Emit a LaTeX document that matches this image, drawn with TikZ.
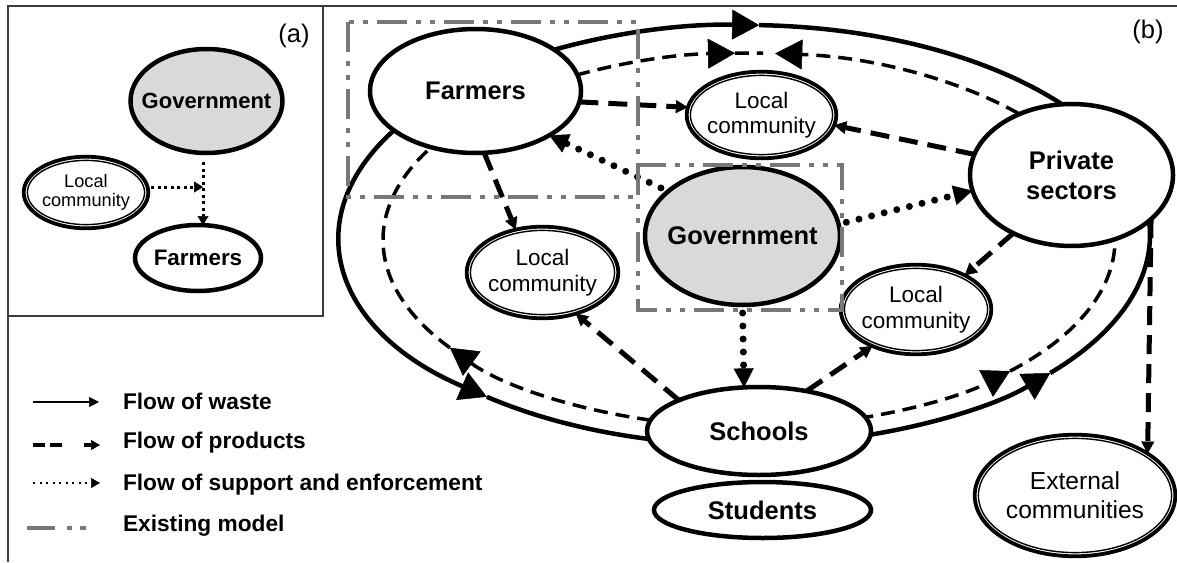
\documentclass[tikz,border=0pt]{standalone}
\usepackage{fontspec}
\setmainfont{Liberation Sans}
\usetikzlibrary{shapes.geometric,arrows.meta}
\definecolor{govgray}{RGB}{217,217,217}
\definecolor{framegray}{RGB}{60,60,60}
\definecolor{modelgray}{RGB}{120,120,120}
\begin{document}
\begin{tikzpicture}[x=1pt, y=-1pt,
  every node/.style={inner sep=0pt, outer sep=0pt},
  frame/.style={draw=framegray, line width=1.5pt},
  % actors
  actor/.style 2 args={ellipse, draw, line width=4.5pt, fill=white,
    inner xsep=-15pt, minimum width=#1, minimum height=#2},
  govt/.style 2 args={actor={#1}{#2}, fill=govgray},
  ring/.style 2 args={ellipse, draw, line width=3.8pt, fill=white,
    inner xsep=-15pt, minimum width=#1, minimum height=#2,
    append after command={node[ellipse, draw, line width=1.4pt, inner xsep=-15pt,
      minimum width=#1-7.4pt, minimum height=#2-7.4pt] at (\tikzlastnode.center) {}}},
  namefont/.style={font=\fontsize{25.5}{30}\selectfont\bfseries, align=center},
  commfont/.style={font=\fontsize{22.5}{25.6}\selectfont, align=center},
  extfont/.style={font=\fontsize{24.6}{29}\selectfont, align=center},
  labelfont/.style={font=\fontsize{25.5}{28}\selectfont},
  legendfont/.style={font=\fontsize{22.7}{26}\selectfont\bfseries, anchor=base west},
  % flows
  wasteline/.style={line width=4.5pt},
  wasteloop/.style={x radius=405, y radius=210},
  prodline/.style={line width=3.5pt, dash pattern=on 14pt off 8pt},
  prodloop/.style={x radius=366, y radius=187},
  bigtip/.style={-{Triangle[width=30pt,length=27pt,line width=0.5pt]}},
  product/.style={line width=5pt, dash pattern=on 19pt off 10pt,
    -{Triangle[width=13pt,length=12pt,line width=0.5pt]}},
  support/.style={line width=7pt, line cap=round, dash pattern=on 0pt off 13pt,
    shorten <=8pt, -{Triangle[width=20pt,length=19pt,line width=0.5pt]}},
  supporta/.style={line width=3pt, dash pattern=on 3pt off 3.5pt,
    -{Triangle[width=11pt,length=9pt,line width=0.5pt]}},
  model/.style={draw=modelgray, line width=3.5pt,
    dash pattern=on 30pt off 9pt on 5pt off 9pt on 5pt off 9pt},
]
\useasboundingbox (0,0) rectangle (1177,562);

% frame of the two panels
\draw[frame] (1177,6) -- (8,6) -- (8,562);
\draw[frame] (323,6) -- (323,316) -- (8,316);

% ---------- panel (a) ----------
\node[labelfont] (labA) at (294,36) {(a)};
\node[govt={152pt}{104pt}, font=\fontsize{22}{26}\selectfont\bfseries] (aGov) at (206.5,101) {Government};
\node[ring={124.6pt}{71.6pt}, font=\fontsize{18.2}{18.5}\selectfont, align=center] (aLoc) at (86,192.5) {Local\\community};
\node[actor={126pt}{66pt}, font=\fontsize{22.4}{26}\selectfont\bfseries] (aFar) at (198,258) {Farmers};
\coordinate (aJoin) at (203,187);
\draw[supporta, shorten <=9pt] (aJoin |- aGov.south) -- (aJoin |- aFar.north);
\draw[supporta, shorten <=3pt] (aLoc.east |- aJoin) -- (aJoin);

% ---------- panel (b) ----------
\node[labelfont] (labB) at (1148,32) {(b)};

% waste loop
\coordinate (wasteC) at (745,235);
\draw[wasteline, bigtip] (wasteC) ++(-125:405 and 210) arc[wasteloop, start angle=-125, end angle=-88];
\draw[wasteline] (wasteC) ++(-88:405 and 210) arc[wasteloop, start angle=-88, end angle=-35];
\draw[wasteline, bigtip] (wasteC) ++(215:405 and 210) arc[wasteloop, start angle=215, end angle=129.6];
\draw[wasteline] (wasteC) ++(129.6:405 and 210) arc[wasteloop, start angle=129.6, end angle=100];
\draw[wasteline, bigtip] (wasteC) ++(76:405 and 210) arc[wasteloop, start angle=76, end angle=41.1];
\draw[wasteline] (wasteC) ++(41.1:405 and 210) arc[wasteloop, start angle=41.1, end angle=-5];

% product loop
\coordinate (prodC) at (749,240);
\draw[prodline, bigtip] (prodC) ++(-122:366 and 187) arc[prodloop, start angle=-122, end angle=-92.2];
\draw[prodline] (prodC) ++(-92.2:366 and 187) arc[prodloop, start angle=-92.2, end angle=-87.8];
\draw[prodline, bigtip] (prodC) ++(-38:366 and 187) arc[prodloop, start angle=-38, end angle=-85.9];
\draw[prodline, bigtip] (prodC) ++(102:366 and 187) arc[prodloop, start angle=102, end angle=144.8];
\draw[prodline] (prodC) ++(144.8:366 and 187) arc[prodloop, start angle=144.8, end angle=213];
\draw[prodline, bigtip] (prodC) ++(76:366 and 187) arc[prodloop, start angle=76, end angle=44.5];
\draw[prodline] (prodC) ++(44.5:366 and 187) arc[prodloop, start angle=44.5, end angle=-3];

% actors
\node[actor={211pt}{124pt}, namefont] (bFar) at (475.5,91) {Farmers};
\node[ring={149.6pt}{86.6pt}, commfont] (bLocT) at (761.5,115) {Local\\community};
\node[actor={203pt}{142pt}, namefont] (bPriv) at (1071.5,175) {Private\\sectors};
\node[govt={195pt}{138pt}, namefont] (bGov) at (742.5,236) {Government};
\node[ring={151.6pt}{91.6pt}, commfont] (bLocL) at (542.5,272.5) {Local\\community};
\node[ring={150.6pt}{89.6pt}, commfont] (bLocR) at (916,309.5) {Local\\community};
\node[actor={217pt}{56pt}, namefont] (bStu) at (762.5,510) {Students};
\node[actor={224pt}{88pt}, namefont] (bSch) at (759,431) {Schools};
\node[ring={200.6pt}{121.6pt}, extfont] (bExt) at (1075,495.5) {External\\communities};

% flows of products
\draw[product] (bFar.-6.9) -- (bLocT.174.8);
\draw[product] (bPriv.168.9) -- (bLocT.-8.9);
\draw[product] (bFar.-82.9) -- (bLocL.122.8);
\draw[product] (bPriv.225.2) -- (bLocR.35.1);
\draw[product] (bSch.159) -- (bLocL.-51.3);
\draw[product] (bSch.40.1) -- (bLocR.220.3);
\draw[product] (bPriv.-29) -- (bExt.30.3);

% flows of support and enforcement
\draw[support] (bGov.149.6) -- (bFar.-31);
\draw[support] (bGov.7.9) -- (bPriv.189.9);
\draw[support] (bGov.south) -- (bSch.109.4);

% existing model
\draw[model] (348,22) rectangle (638,197);
\draw[model] (638,165) rectangle (842,310);

% ---------- legend ----------
\coordinate (lgW0) at (33,402);  \coordinate (lgW1) at (99,402);
\coordinate (lgP0) at (33,445);  \coordinate (lgP1) at (100,445);
\coordinate (lgS0) at (33,483);  \coordinate (lgS1) at (100,483);
\coordinate (lgM0) at (27,528);  \coordinate (lgM1) at (87,528);
\draw[line width=2.7pt, -{Triangle[width=10pt,length=10pt,line width=0.5pt]}] (lgW0) -- (lgW1);
\draw[line width=3.7pt, dash pattern=on 12pt off 4.5pt on 12pt off 22pt on 10pt off 20pt,
  -{Triangle[width=10pt,length=9pt,line width=0.5pt]}] (lgP0) -- (lgP1);
\draw[line width=2.2pt, dash pattern=on 2.2pt off 4.3pt,
  -{Triangle[width=10pt,length=9pt,line width=0.5pt]}] (lgS0) -- (lgS1);
\draw[draw=modelgray, line width=3.7pt, dash pattern=on 28pt off 12pt on 5pt off 8pt on 6pt off 60pt] (lgM0) -- (lgM1);
\node[legendfont] (lgWaste) at (123,409) {Flow of waste};
\node[legendfont] (lgProd) at (123,448) {Flow of products};
\node[legendfont] (lgSupp) at (123,490) {Flow of support and enforcement};
\node[legendfont] (lgModel) at (123,531.5) {Existing model};
\end{tikzpicture}
\end{document}
